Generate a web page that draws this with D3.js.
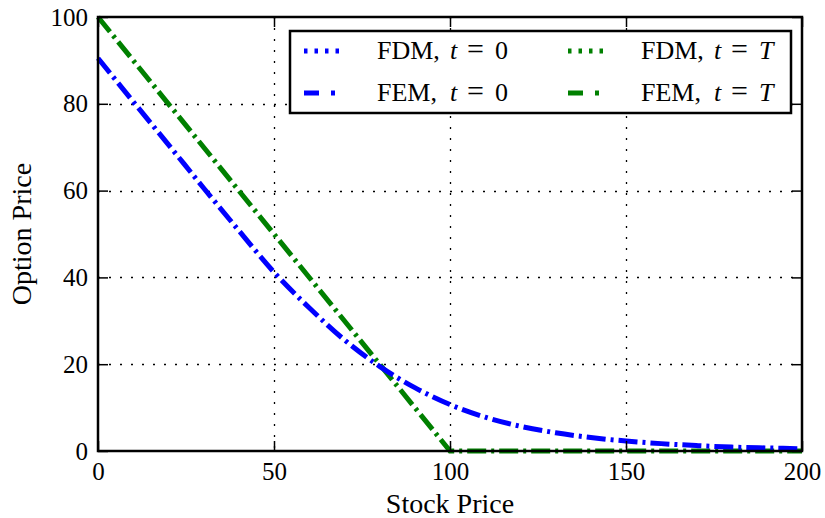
<!DOCTYPE html>
<html>
<head>
<meta charset="utf-8">
<script src="https://cdn.jsdelivr.net/npm/d3@7"></script>
<style>
  body { margin: 0; background: #fff; }
  svg text { font-family: "Liberation Serif", "DejaVu Serif", serif; fill: #000; }
</style>
</head>
<body>
<div id="chart"></div>
<script>
// stock prices and option values
const stockPrice = [0, 10, 20, 30, 40, 50, 60, 70, 80, 90, 100, 110, 120, 130, 140, 150, 160, 170, 180, 190, 200];
const femT0 = [90.5, 80.5, 70.6, 60.6, 50.8, 41.2, 33.0, 25.6, 19.5, 14.6, 10.7, 7.8, 5.7, 4.2, 3.1, 2.3, 1.7, 1.25, 0.9, 0.7, 0.5];
const payoffS = [0, 100, 200];
const femTT = [100, 0, 0];
const xTicks = [0, 50, 100, 150, 200];
const yTicks = [0, 20, 40, 60, 80, 100];

const W = 825, H = 518;
const margin = { top: 17, right: 23, bottom: 67, left: 98 };
const width = W - margin.left - margin.right;
const height = H - margin.top - margin.bottom;

const svg = d3.select("#chart").append("svg")
  .attr("width", W)
  .attr("height", H);

const g = svg.append("g")
  .attr("transform", `translate(${margin.left},${margin.top})`);

const x = d3.scaleLinear().domain([0, 200]).range([0, width]);
const y = d3.scaleLinear().domain([0, 100]).range([height, 0]);

// dotted grid
const gridDash = "2,9";
g.selectAll(".vgrid").data(xTicks.slice(1, -1)).enter().append("line")
  .attr("x1", d => Math.round(x(d)) + 0.5).attr("x2", d => Math.round(x(d)) + 0.5)
  .attr("y1", 0).attr("y2", height)
  .attr("stroke", "#000").attr("stroke-width", 1.3)
  .attr("stroke-dasharray", gridDash);
g.selectAll(".hgrid").data(yTicks.slice(1, -1)).enter().append("line")
  .attr("y1", d => Math.round(y(d)) + 0.5).attr("y2", d => Math.round(y(d)) + 0.5)
  .attr("x1", 0).attr("x2", width)
  .attr("stroke", "#000").attr("stroke-width", 1.3)
  .attr("stroke-dasharray", gridDash);

const dashDot = "19,5,3,5";
const lw = 5;

g.append("path")
  .datum(payoffS.map((s, i) => [s, femTT[i]]))
  .attr("d", d3.line().x(d => x(d[0])).y(d => y(d[1])))
  .attr("fill", "none").attr("stroke", "#008000")
  .attr("stroke-width", lw).attr("stroke-dasharray", dashDot);

g.append("path")
  .datum(stockPrice.map((s, i) => [s, femT0[i]]))
  .attr("d", d3.line().curve(d3.curveMonotoneX).x(d => x(d[0])).y(d => y(d[1])))
  .attr("fill", "none").attr("stroke", "#0000ff")
  .attr("stroke-width", lw).attr("stroke-dasharray", dashDot);

// axes, ticks inside on all four sides
const tick = 10;
g.append("g").attr("transform", `translate(0,${height})`)
  .call(d3.axisBottom(x).tickValues(xTicks).tickSize(-tick).tickPadding(11))
  .call(a => a.select(".domain").remove());
g.append("g")
  .call(d3.axisTop(x).tickValues(xTicks).tickSize(-tick).tickFormat(""))
  .call(a => a.select(".domain").remove());
g.append("g")
  .call(d3.axisLeft(y).tickValues(yTicks).tickSize(-tick).tickPadding(10))
  .call(a => a.select(".domain").remove());
g.append("g").attr("transform", `translate(${width},0)`)
  .call(d3.axisRight(y).tickValues(yTicks).tickSize(-tick).tickFormat(""))
  .call(a => a.select(".domain").remove());

g.selectAll(".tick line").attr("stroke", "#000").attr("stroke-width", 1.5);
g.selectAll(".tick text").attr("font-size", 25).attr("font-family", "Liberation Serif");

g.append("rect")
  .attr("width", width).attr("height", height)
  .attr("fill", "none").attr("stroke", "#000").attr("stroke-width", 2.5);

// axis labels
svg.append("text")
  .attr("x", margin.left + width / 2).attr("y", 513)
  .attr("text-anchor", "middle").attr("font-size", 28)
  .text("Stock Price");
svg.append("text")
  .attr("transform", `translate(31,${margin.top + height / 2}) rotate(-90)`)
  .attr("text-anchor", "middle").attr("font-size", 28)
  .text("Option Price");

// legend
const legendItems = [
  { name: "FDM", t: "0", color: "#0000ff", dash: "3.5,7", col: 0, row: 0 },
  { name: "FEM", t: "0", color: "#0000ff", dash: "15,12,4,10", col: 0, row: 1 },
  { name: "FDM", t: "T", color: "#008000", dash: "3.5,7", col: 1, row: 0 },
  { name: "FEM", t: "T", color: "#008000", dash: "15,12,4,10", col: 1, row: 1 }
];

const legend = svg.append("g").attr("transform", "translate(290,31)");
legend.append("rect")
  .attr("width", 501).attr("height", 82)
  .attr("fill", "#fff").attr("stroke", "#000").attr("stroke-width", 2.5);

const item = legend.selectAll(".item").data(legendItems).enter().append("g")
  .attr("transform", d => `translate(${14 + d.col * 264},${20 + d.row * 42})`);
item.append("line")
  .attr("x1", 0).attr("x2", 36).attr("y1", 0).attr("y2", 0)
  .attr("stroke", d => d.color).attr("stroke-width", lw)
  .attr("stroke-dasharray", d => d.dash);
const label = item.append("text")
  .attr("y", 8).attr("font-size", 26);
label.append("tspan").attr("x", 73).text(d => d.name + ",");
label.append("tspan").attr("x", 146).attr("font-style", "italic").text("t");
label.append("tspan").attr("x", 163).attr("font-size", 30).text("=");
label.append("tspan").attr("x", 191)
  .attr("font-style", d => d.t === "T" ? "italic" : "normal").text(d => d.t);
</script>
</body>
</html>
